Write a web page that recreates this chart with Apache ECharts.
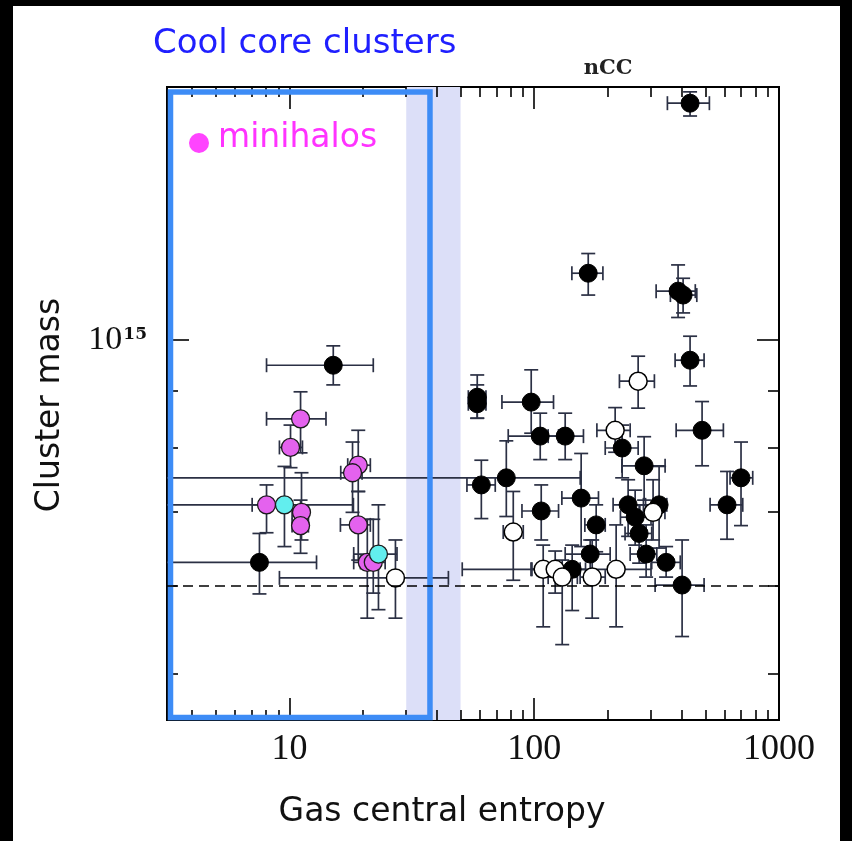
<!DOCTYPE html>
<html>
<head>
<meta charset="utf-8">
<script src="https://cdn.jsdelivr.net/npm/echarts@6.0.0/dist/echarts.min.js"></script>
<style>
  html, body { margin: 0; padding: 0; background: #000; }
  #chart { width: 852px; height: 841px; }
</style>
</head>
<body>
<div id="chart"></div>
<script>
// Central gas entropy K0 (keV cm^2) against cluster mass (units of 1e14 Msun).
// Each row: [K0, K0 low, K0 high, mass, mass low, mass high]
const filledClusters = [
  [15.1, 8.06, 22.0, 9.49, 9.11, 9.88],
  [7.54, 2.5, 12.9, 6.30, 5.90, 6.69],
  [58.5, 53.8, 63.5, 8.88, 8.50, 9.30],
  [58.5, 53.8, 63.5, 8.76, 8.50, 9.11],
  [97.2, 73.8, 119.9, 8.79, 8.24, 9.40],
  [105.8, 78.3, 125.7, 8.19, 7.80, 8.59],
  [133.8, 114.0, 158.9, 8.19, 7.80, 8.59],
  [60.8, 53.1, 69.3, 7.40, 6.90, 7.79],
  [76.9, 2.5, 154.1, 7.51, 6.93, 8.11],
  [106.8, 89.1, 125.7, 7.01, 6.60, 7.40],
  [155.5, 129.7, 183.0, 7.20, 6.51, 7.90],
  [179.1, 161.0, 195.0, 6.81, 6.44, 7.10],
  [169.3, 133.8, 204.3, 6.41, 6.07, 6.60],
  [142.9, 50.8, 162.0, 6.21, 5.70, 6.53],
  [228.7, 195.0, 265.8, 7.99, 7.51, 8.38],
  [281.2, 228.0, 342.5, 7.70, 7.17, 8.18],
  [485.0, 380.0, 592.6, 8.29, 7.70, 8.80],
  [699.6, 631.0, 781.0, 7.51, 6.80, 8.09],
  [613.4, 523.0, 711.0, 7.10, 6.61, 7.61],
  [241.9, 210.0, 285.0, 7.10, 6.65, 7.48],
  [258.4, 225.0, 300.0, 6.92, 6.53, 7.32],
  [268.3, 235.0, 302.0, 6.69, 6.29, 7.10],
  [286.5, 246.6, 316.8, 6.41, 6.11, 6.81],
  [345.8, 302.0, 395.0, 6.30, 6.11, 6.51],
  [401.9, 311.8, 494.2, 6.01, 5.40, 6.60],
  [323.7, 279.3, 348.0, 7.10, 6.49, 7.69],
  [166.2, 142.5, 190.8, 11.49, 10.98, 11.97],
  [387.0, 314.8, 455.0, 11.07, 10.48, 11.69],
  [405.7, 360.0, 461.5, 10.98, 10.58, 11.37],
  [433.2, 376.3, 494.2, 9.59, 9.09, 10.08],
  [433.2, 350.0, 519.5, 16.36, 15.93, 16.75]
];
const openClusters = [
  [27.1, 9.1, 44.6, 6.10, 5.61, 6.60],
  [82.1, 74.7, 90.2, 6.71, 6.07, 7.30],
  [108.8, 97.0, 122.0, 6.21, 5.51, 6.53],
  [121.8, 97.9, 148.0, 6.21, 5.91, 6.45],
  [130.1, 114.0, 150.0, 6.11, 5.31, 6.33],
  [172.5, 154.0, 195.0, 6.11, 5.61, 6.60],
  [216.1, 154.0, 300.0, 6.21, 5.51, 6.81],
  [214.1, 180.3, 246.6, 8.29, 7.92, 8.69],
  [265.8, 222.9, 309.7, 9.18, 8.68, 9.67],
  [305.9, 270.0, 342.0, 6.99, 6.60, 7.48]
];
const minihaloClusters = [
  [11.1, 8.06, 14.1, 8.49, 7.91, 8.98],
  [10.1, 9.1, 11.3, 8.00, 7.67, 8.38],
  [19.1, 17.3, 21.4, 7.71, 7.30, 8.29],
  [18.1, 16.2, 19.8, 7.59, 6.99, 8.09],
  [8.06, 7.04, 9.19, 7.10, 6.70, 7.40],
  [11.2, 10.25, 11.95, 6.99, 6.60, 7.59],
  [11.1, 10.25, 11.95, 6.80, 6.42, 7.17],
  [19.1, 16.15, 21.4, 6.81, 6.33, 7.30],
  [20.8, 18.3, 23.1, 6.30, 5.61, 6.89],
  [22.0, 19.5, 24.6, 6.30, 5.91, 6.89]
];
const candidateClusters = [
  [9.54, 2.5, 18.25, 7.10, 6.51, 7.69],
  [23.1, 18.3, 27.5, 6.41, 5.71, 7.10]
];

// Axis ranges and ticks
const entropyRange = [3.16, 1000];
const massRange = [4.54, 16.92];
const entropyTicksMajor = [10, 100, 1000];
const entropyTicksMinor = [4, 5, 6, 7, 8, 9, 20, 30, 40, 50, 60, 70, 80, 90,
  200, 300, 400, 500, 600, 700, 800, 900];
const massTicksMajor = [10];
const massTicksMinor = [5, 6, 7, 8, 9];

// Annotations
const coolCoreEntropy = [3.16, 37.5];
const transitionBand = [30, 50];
const massThreshold = 6;

const ERR_COLOR = '#2b3044';
const TICK_STYLE = { color: '#000', width: 1.6 };
const MARKER_SIZE = 18;

function xAxisCfg(position, ticks, len, labels) {
  return {
    type: 'log', logBase: 10, min: entropyRange[0], max: entropyRange[1],
    position: position, z: 1.5,
    axisLine: { show: false }, splitLine: { show: false },
    axisTick: { show: true, inside: true, length: len, customValues: ticks, lineStyle: TICK_STYLE },
    axisLabel: labels ? {
      show: true, customValues: entropyTicksMajor, margin: 12,
      fontFamily: 'Liberation Serif', fontSize: 36, color: '#111',
      formatter: v => String(Math.round(v))
    } : { show: false }
  };
}
function yAxisCfg(position, ticks, len, labels) {
  return {
    type: 'log', logBase: 10, min: massRange[0], max: massRange[1],
    position: position, z: 1.5,
    axisLine: { show: false }, splitLine: { show: false },
    axisTick: { show: true, inside: true, length: len, customValues: ticks, lineStyle: TICK_STYLE },
    axisLabel: labels ? {
      show: true, customValues: massTicksMajor, margin: 20,
      formatter: () => '{a|10}{b|15}',
      rich: {
        a: { fontFamily: 'Liberation Serif', fontSize: 34, color: '#111', lineHeight: 34 },
        b: { fontFamily: 'DejaVu Serif', fontWeight: 'bold', fontSize: 17, color: '#111', verticalAlign: 'top', lineHeight: 18, padding: [3, 0, 0, 1] }
      }
    } : { show: false }
  };
}

function errorBarItem(params, api) {
  const x = api.value(0), xlo = api.value(1), xhi = api.value(2);
  const y = api.value(3), ylo = api.value(4), yhi = api.value(5);
  const l = api.coord([xlo, y]), r = api.coord([xhi, y]);
  const b = api.coord([x, ylo]), t = api.coord([x, yhi]);
  const cap = 7;
  const style = { stroke: ERR_COLOR, lineWidth: 1.7, fill: null };
  const seg = (p, q) => ({ type: 'line', shape: { x1: p[0], y1: p[1], x2: q[0], y2: q[1] }, style: style });
  return {
    type: 'group',
    children: [
      seg(l, r),
      seg([l[0], l[1] - cap], [l[0], l[1] + cap]),
      seg([r[0], r[1] - cap], [r[0], r[1] + cap]),
      seg(b, t),
      seg([b[0] - cap, b[1]], [b[0] + cap, b[1]]),
      seg([t[0] - cap, t[1]], [t[0] + cap, t[1]])
    ]
  };
}

const toPoint = row => [row[0], row[3]];
const allClusters = filledClusters.concat(openClusters, minihaloClusters, candidateClusters);

const chart = echarts.init(document.getElementById('chart'), null, { renderer: 'canvas' });
chart.setOption({
  animation: false,
  backgroundColor: '#fff',
  grid: { left: 167, top: 87, right: 73, bottom: 121, show: true, borderColor: '#000', borderWidth: 2, backgroundColor: 'transparent' },
  xAxis: [
    xAxisCfg('bottom', entropyTicksMajor, 22, true),
    xAxisCfg('bottom', entropyTicksMinor, 10, false),
    xAxisCfg('top', entropyTicksMajor, 22, false),
    xAxisCfg('top', entropyTicksMinor, 10, false)
  ],
  yAxis: [
    yAxisCfg('left', massTicksMajor, 22, true),
    yAxisCfg('left', massTicksMinor, 11, false),
    yAxisCfg('right', massTicksMajor, 22, false),
    yAxisCfg('right', massTicksMinor, 11, false)
  ],
  series: [
    {
      type: 'custom', name: 'band', z: 1, silent: true,
      data: [transitionBand],
      encode: { x: [0, 1] },
      renderItem: (params, api) => {
        const p0 = api.coord([api.value(0), massRange[1]]);
        const p1 = api.coord([api.value(1), massRange[0]]);
        return { type: 'rect', shape: { x: p0[0], y: p0[1], width: p1[0] - p0[0], height: p1[1] - p0[1] }, style: { fill: '#dcdff8' } };
      }
    },
    {
      type: 'custom', name: 'errors', z: 2, silent: true, clip: true,
      data: allClusters,
      dimensions: ['k', 'klo', 'khi', 'm', 'mlo', 'mhi'],
      encode: { x: 0, y: 3 },
      renderItem: errorBarItem,
      markLine: {
        silent: true, symbol: 'none', label: { show: false },
        lineStyle: { color: '#000', width: 1.5, type: [10, 6] },
        data: [{ yAxis: massThreshold }]
      }
    },
    {
      type: 'scatter', name: 'filled', z: 3, silent: true, symbol: 'circle', symbolSize: MARKER_SIZE,
      itemStyle: { color: '#000', borderColor: '#000', borderWidth: 1, opacity: 1 },
      data: filledClusters.map(toPoint)
    },
    {
      type: 'scatter', name: 'open', z: 3, silent: true, symbol: 'circle', symbolSize: MARKER_SIZE,
      itemStyle: { color: '#fff', borderColor: '#000', borderWidth: 1.5, opacity: 1 },
      data: openClusters.map(toPoint)
    },
    {
      type: 'scatter', name: 'minihalos', z: 3, silent: true, symbol: 'circle', symbolSize: MARKER_SIZE,
      itemStyle: { color: '#e462ee', borderColor: '#1a1a1a', borderWidth: 1.3, opacity: 1 },
      data: minihaloClusters.map(toPoint)
    },
    {
      type: 'scatter', name: 'candidates', z: 3, silent: true, symbol: 'circle', symbolSize: MARKER_SIZE,
      itemStyle: { color: '#62eeee', borderColor: '#1a1a1a', borderWidth: 1.3, opacity: 1 },
      data: candidateClusters.map(toPoint)
    },
    {
      type: 'custom', name: 'coolCoreBox', z: 4, silent: true,
      data: [coolCoreEntropy],
      encode: { x: [0, 1] },
      renderItem: (params, api) => {
        const p0 = api.coord([api.value(0), massRange[1]]);
        const p1 = api.coord([api.value(1), massRange[0]]);
        const x0 = p0[0] + 3.5, y0 = p0[1] + 5, y1 = p1[1] - 2.5;
        return { type: 'rect', shape: { x: x0, y: y0, width: p1[0] - x0, height: y1 - y0 }, style: { fill: null, stroke: '#3d8cf6', lineWidth: 5.5 } };
      }
    }
  ],
  graphic: [
    { type: 'text', left: 153, top: 27, z: 10, style: { text: 'Cool core clusters', fontFamily: 'DejaVu Sans', fontSize: 34, fill: '#1f1fff' } },
    { type: 'text', x: 608, y: 69, z: 10, style: { text: 'nCC', fontFamily: 'DejaVu Serif', fontWeight: 'bold', fontSize: 21, fill: '#222', align: 'center', verticalAlign: 'middle' } },
    { type: 'circle', shape: { cx: 199, cy: 143, r: 10 }, z: 10, style: { fill: '#ff44ff' } },
    { type: 'text', x: 218, y: 138, z: 10, style: { text: 'minihalos', fontFamily: 'DejaVu Sans', fontSize: 33, fill: '#ff33ff', align: 'left', verticalAlign: 'middle' } },
    { type: 'text', x: 442, y: 812, z: 10, style: { text: 'Gas central entropy', fontFamily: 'DejaVu Sans', fontSize: 33, fill: '#111', align: 'center', verticalAlign: 'middle' } },
    { type: 'text', x: 50, y: 405, rotation: Math.PI / 2, z: 10, style: { text: 'Cluster mass', fontFamily: 'DejaVu Sans', fontSize: 33, fill: '#111', align: 'center', verticalAlign: 'middle' } },
    { type: 'rect', shape: { x: 0, y: 0, width: 13, height: 841 }, z: 20, style: { fill: '#000' } },
    { type: 'rect', shape: { x: 840, y: 0, width: 12, height: 841 }, z: 20, style: { fill: '#000' } },
    { type: 'rect', shape: { x: 0, y: 0, width: 852, height: 6 }, z: 20, style: { fill: '#000' } }
  ]
});
</script>
</body>
</html>
